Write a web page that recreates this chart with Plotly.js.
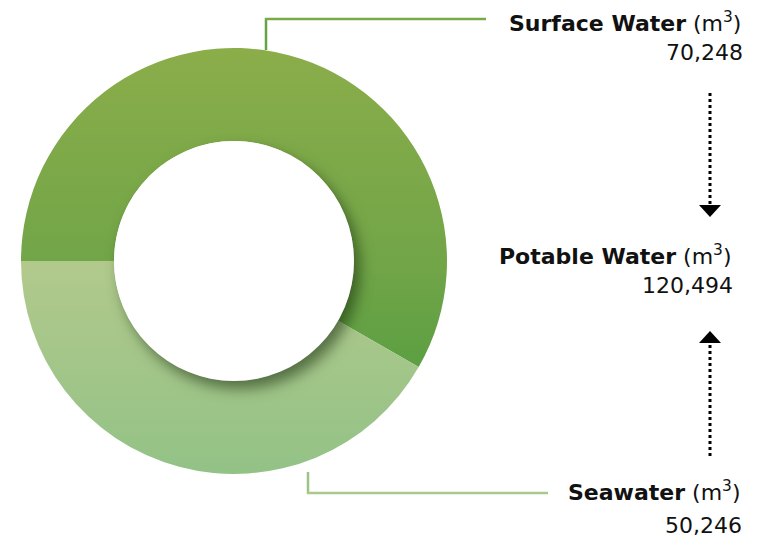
<!DOCTYPE html>
<html>
<head>
<meta charset="utf-8">
<script src="https://cdn.plot.ly/plotly-3.0.1.min.js"></script>
<style>
html,body{margin:0;padding:0;background:#fff;}
#chart{width:760px;height:545px;}
</style>
</head>
<body>
<div id="chart"></div>
<script>
// ---- data ----
var labels = ['Surface Water', 'Seawater'];
var values = [70248, 50246];
var totalLabel = 'Potable Water';
var totalValue = 120494;
var unit = '(m<sup>3</sup>)';

// ---- helpers (pixel -> paper) ----
var W = 760, H = 545;
function px(x){ return x / W; }
function py(y){ return 1 - y / H; }
function fmt(v){ return v.toLocaleString('en-US'); }

var cx = 234, cy = 261, R = 213, r = 120;

var FONT = 'DejaVu Sans, Liberation Sans, Arial, sans-serif';
var FS = 22;

var trace = {
  type: 'pie',
  labels: labels,
  values: values,
  sort: false,
  direction: 'clockwise',
  rotation: -90,
  hole: r / R,
  textinfo: 'none',
  hoverinfo: 'none',
  marker: { colors: ['#76a647', '#a3c589'], line: { width: 0 } },
  domain: { x: [px(cx - R), px(cx + R)], y: [py(cy + R), py(cy - R)] }
};

function ann(x, y, text){
  return { xref: 'paper', yref: 'paper', x: px(x), y: py(y), xanchor: 'right', yanchor: 'middle',
    text: text, showarrow: false, align: 'right', font: { family: FONT, size: FS, color: '#111111' } };
}

var annotations = [
  ann(743, 22, '<b>' + labels[0] + '</b> ' + unit),
  ann(745, 53, fmt(values[0])),
  ann(734, 255, '<b>' + totalLabel + '</b> ' + unit),
  ann(735, 285, fmt(totalValue)),
  ann(742, 491, '<b>' + labels[1] + '</b> ' + unit),
  ann(744, 525, fmt(values[1]))
];

function tri(x1,y1,x2,y2,x3,y3){
  return 'M' + px(x1) + ',' + py(y1) + ' L' + px(x2) + ',' + py(y2) + ' L' + px(x3) + ',' + py(y3) + ' Z';
}

var shapes = [
  // hole disc (casts shadow)
  { type: 'circle', xref: 'paper', yref: 'paper', layer: 'above',
    x0: px(cx - r), x1: px(cx + r), y0: py(cy + r), y1: py(cy - r),
    fillcolor: '#ffffff', line: { width: 0 } },
  // leader lines surface
  { type: 'line', xref: 'paper', yref: 'paper', x0: px(266), x1: px(266), y0: py(50), y1: py(18),
    line: { color: '#64a343', width: 2.5 } },
  { type: 'line', xref: 'paper', yref: 'paper', x0: px(265), x1: px(486), y0: py(19), y1: py(19),
    line: { color: '#78aa47', width: 2.5 } },
  // leader lines seawater
  { type: 'line', xref: 'paper', yref: 'paper', x0: px(308), x1: px(308), y0: py(472), y1: py(494),
    line: { color: '#9cc487', width: 2.5 } },
  { type: 'line', xref: 'paper', yref: 'paper', x0: px(307), x1: px(548), y0: py(493), y1: py(493),
    line: { color: '#a9c98b', width: 2.5 } },
  // dotted arrows
  { type: 'line', xref: 'paper', yref: 'paper', x0: px(710), x1: px(710), y0: py(93), y1: py(204),
    line: { color: '#000', width: 3, dash: 'dot' } },
  { type: 'path', xref: 'paper', yref: 'paper', path: tri(699, 205, 721, 205, 710, 217),
    fillcolor: '#000', line: { width: 0 } },
  { type: 'line', xref: 'paper', yref: 'paper', x0: px(710), x1: px(710), y0: py(345), y1: py(458),
    line: { color: '#000', width: 3, dash: 'dot' } },
  { type: 'path', xref: 'paper', yref: 'paper', path: tri(699, 343, 721, 343, 710, 331),
    fillcolor: '#000', line: { width: 0 } }
];

var layout = {
  width: W, height: H,
  margin: { l: 0, r: 0, t: 0, b: 0 },
  paper_bgcolor: '#ffffff',
  plot_bgcolor: '#ffffff',
  showlegend: false,
  hovermode: false,
  annotations: annotations,
  shapes: shapes
};

Plotly.newPlot('chart', [trace], layout, { displayModeBar: false }).then(function(gd){
  var svg = gd.querySelector('svg.main-svg');
  var NS = 'http://www.w3.org/2000/svg';
  var defs = svg.querySelector('defs') || svg.insertBefore(document.createElementNS(NS, 'defs'), svg.firstChild);
  function grad(id, stops){
    var g = document.createElementNS(NS, 'linearGradient');
    g.setAttribute('id', id);
    g.setAttribute('x1', '0'); g.setAttribute('y1', '0');
    g.setAttribute('x2', '0'); g.setAttribute('y2', '1');
    stops.forEach(function(s){
      var st = document.createElementNS(NS, 'stop');
      st.setAttribute('offset', s[0]);
      st.setAttribute('stop-color', s[1]);
      g.appendChild(st);
    });
    defs.appendChild(g);
  }
  grad('gSurface', [[0, '#8bad4a'], [0.68, '#71a548'], [1, '#5c9f42']]);
  grad('gSea', [[0, '#b2c98c'], [1, '#93c286']]);
  var slices = gd.querySelectorAll('.slice path.surface');
  if (slices[0]) slices[0].style.fill = 'url(#gSurface)';
  if (slices[1]) slices[1].style.fill = 'url(#gSea)';
  // shadow under the hole disc
  var sp = gd.querySelectorAll('.shapelayer path');
  sp.forEach(function(p){
    var f = (p.style.fill || '').replace(/\s/g,'');
    if (f === 'rgb(255,255,255)' || f === '#ffffff') {
      p.style.filter = 'drop-shadow(6px 8px 7px rgba(20,40,10,0.55))';
    }
  });
});
</script>
</body>
</html>
